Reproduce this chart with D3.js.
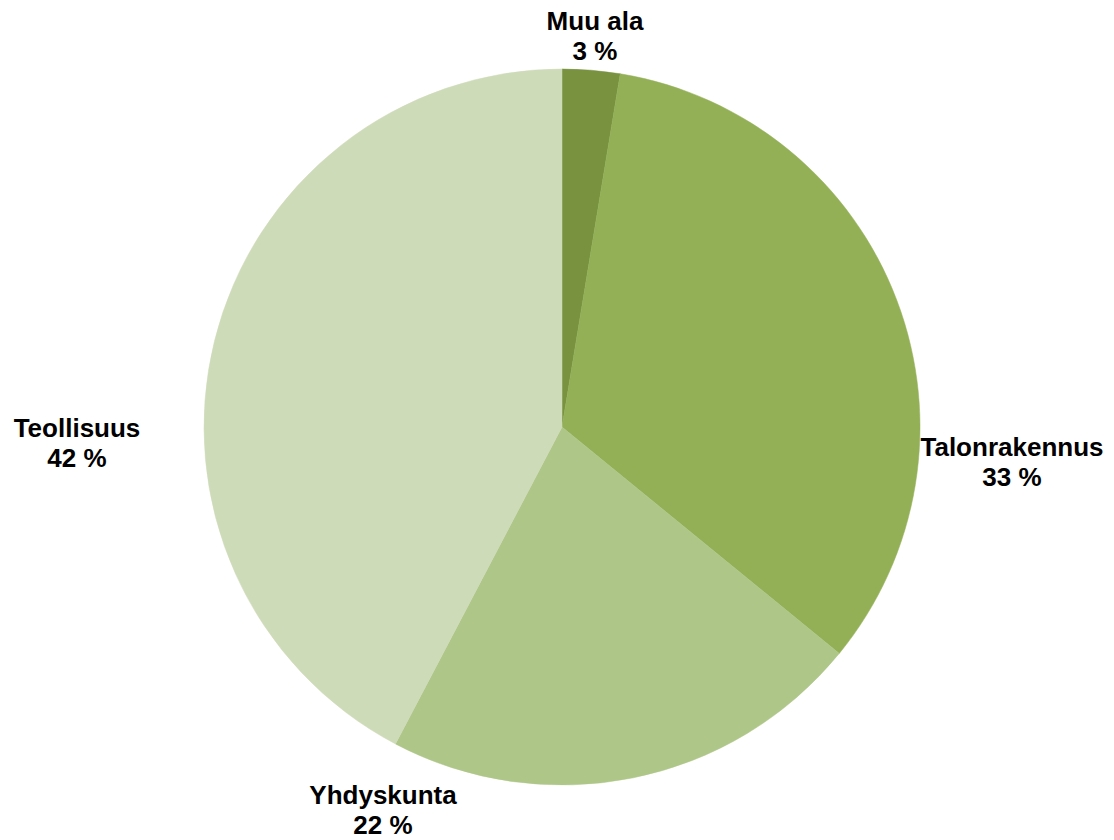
<!DOCTYPE html>
<html>
<head>
<meta charset="utf-8">
<script src="https://cdn.jsdelivr.net/npm/d3@7"></script>
<style>
html,body{margin:0;padding:0;background:#fff;}
svg{display:block;}
text{font-family:"Liberation Sans",Arial,sans-serif;font-weight:bold;font-size:26px;fill:#000;}
</style>
</head>
<body>
<svg id="chart" width="1114" height="840"></svg>
<script>
const categories = ["Muu ala", "Talonrakennus", "Yhdyskunta", "Teollisuus"];
const values = [2.6, 33.3, 21.8, 42.3];
const percentLabels = ["3 %", "33 %", "22 %", "42 %"];
const colors = ["#78923F", "#93B056", "#AEC688", "#CEDBB8"];

const cx = 562, cy = 427, R = 358;
const svg = d3.select("#chart");
const g = svg.append("g").attr("transform", `translate(${cx},${cy})`);

const data = categories.map((c, i) => ({cat: c, value: values[i], pct: percentLabels[i], color: colors[i]}));
const pie = d3.pie().value(d => d.value).sort(null);
const arc = d3.arc().innerRadius(0).outerRadius(R);
const arcs = pie(data);

g.selectAll("path").data(arcs).join("path")
  .attr("d", arc)
  .attr("fill", d => d.data.color)
  .attr("stroke", d => d.data.color)
  .attr("stroke-width", 0.5);

// label anchor points (page coordinates) outside the pie
const labelAnchors = [
  [595, 30], [1012, 456], [383, 804], [77, 437]
];
const lh = 30;
const lbl = svg.selectAll("g.lbl").data(arcs).join("g").attr("class", "lbl");
lbl.each(function(d, i) {
  const px = labelAnchors[i][0];
  const py = labelAnchors[i][1];
  const t = d3.select(this).append("text").attr("text-anchor", "middle");
  t.append("tspan").attr("x", px).attr("y", py).text(d.data.cat);
  t.append("tspan").attr("x", px).attr("y", py + lh).text(d.data.pct);
});
</script>
</body>
</html>
